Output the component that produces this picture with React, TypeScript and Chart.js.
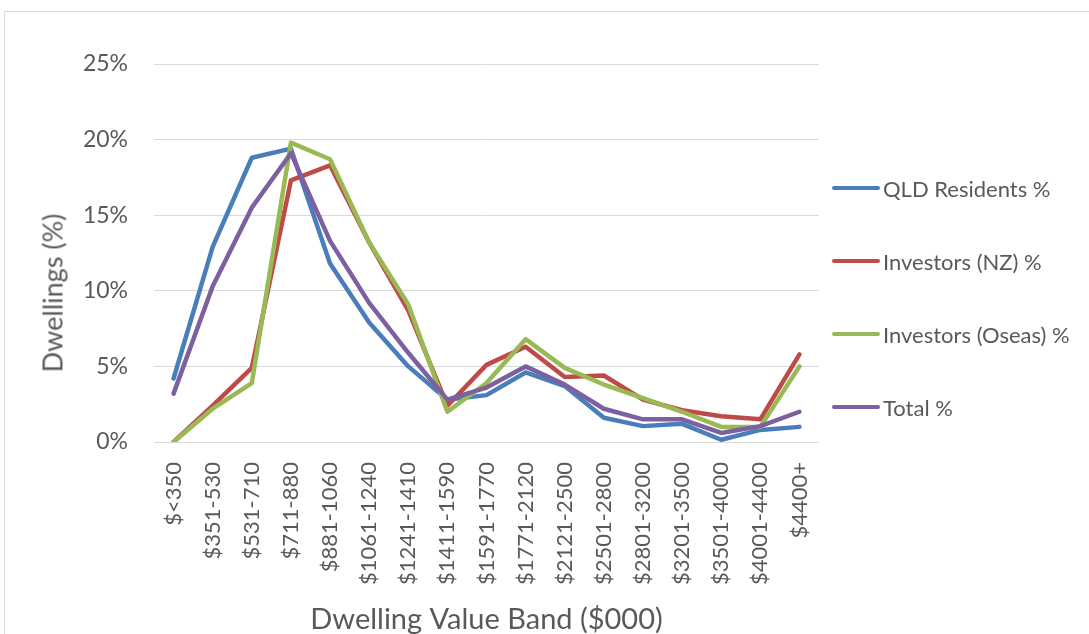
import React, { useEffect, useRef } from "react";
import { Chart, registerables } from "chart.js";

Chart.register(...registerables);

const categories = [
  "$<350",
  "$351-530",
  "$531-710",
  "$711-880",
  "$881-1060",
  "$1061-1240",
  "$1241-1410",
  "$1411-1590",
  "$1591-1770",
  "$1771-2120",
  "$2121-2500",
  "$2501-2800",
  "$2801-3200",
  "$3201-3500",
  "$3501-4000",
  "$4001-4400",
  "$4400+",
];

const qldResidents = [4.2, 12.9, 18.8, 19.4, 11.8, 7.9, 5.0, 2.8, 3.1, 4.6, 3.7, 1.6, 1.05, 1.2, 0.15, 0.8, 1.0];
const investorsNZ = [0, 2.4, 4.9, 17.3, 18.3, 13.2, 8.7, 2.4, 5.1, 6.3, 4.3, 4.4, 2.8, 2.1, 1.7, 1.5, 5.8];
const investorsOseas = [0, 2.2, 3.9, 19.8, 18.7, 13.2, 9.1, 2.0, 3.9, 6.8, 4.9, 3.8, 2.9, 2.0, 1.0, 1.0, 5.0];
const totalPct = [3.2, 10.3, 15.5, 19.1, 13.3, 9.2, 5.9, 2.8, 3.6, 5.0, 3.8, 2.2, 1.5, 1.5, 0.6, 1.05, 2.0];

const seriesNames = ["QLD Residents %", "Investors (NZ) %", "Investors (Oseas) %", "Total %"];
const seriesValues = [qldResidents, investorsNZ, investorsOseas, totalPct];
const seriesColors = ["#4A7EBB", "#BE4B48", "#98B954", "#7D60A0"];

const yMin = 0;
const yMax = 25;
const yStep = 5;

const xTitle = "Dwelling Value Band ($000)";
const yTitle = "Dwellings (%)";

const FONT = "Lato, 'Open Sans', sans-serif";
const TEXT = "#595959";

export default function App() {
  const canvasRef = useRef<HTMLCanvasElement | null>(null);

  useEffect(() => {
    const canvas = canvasRef.current;
    if (!canvas) return;
    const chart = new Chart(canvas, {
      type: "line",
      data: {
        labels: categories,
        datasets: seriesNames.map((name, i) => ({
          label: name,
          data: seriesValues[i],
          borderColor: seriesColors[i],
          backgroundColor: seriesColors[i],
          borderWidth: 4.5,
          pointRadius: 0,
          tension: 0,
          fill: false,
          order: seriesNames.length - i,
          borderJoinStyle: "round" as const,
          borderCapStyle: "round" as const,
        })),
      },
      options: {
        animation: false,
        responsive: false,
        maintainAspectRatio: false,
        layout: { padding: { left: 0, right: 270, top: 64, bottom: 0 } },
        plugins: {
          legend: { display: false },
          tooltip: { enabled: false },
        },
        scales: {
          x: {
            type: "category",
            offset: true,
            grid: { display: false, drawTicks: false },
            border: { display: false },
            ticks: {
              autoSkip: false,
              minRotation: 90,
              maxRotation: 90,
              padding: 20,
              color: TEXT,
              font: { family: FONT, size: 22 },
            },
            title: {
              display: true,
              text: xTitle,
              color: TEXT,
              font: { family: FONT, size: 29, lineHeight: 1 },
              padding: { top: 0, bottom: 0 },
            },
            afterFit: (scale: any) => {
              scale.height = 192;
            },
          },
          y: {
            min: yMin,
            max: yMax,
            grid: { color: "#d9d9d9", lineWidth: 1, drawTicks: false },
            border: { display: false },
            ticks: {
              stepSize: yStep,
              padding: 26,
              color: TEXT,
              font: { family: FONT, size: 23 },
              callback: (v: any) => `${v}%`,
            },
            afterFit: (scale: any) => {
              scale.width = 154;
            },
          },
        },
      },
    });
    return () => chart.destroy();
  }, []);

  return (
    <div
      style={{
        position: "fixed",
        left: 0,
        top: 0,
        width: 1089,
        height: 634,
        overflow: "hidden",
        background: "#ffffff",
      }}
    >
      <div
        style={{
          position: "absolute",
          left: 4,
          top: 11,
          width: 1200,
          height: 800,
          border: "1px solid #d9d9d9",
          boxSizing: "border-box",
        }}
      />
      <canvas
        ref={canvasRef}
        width={1089}
        height={634}
        style={{ position: "absolute", left: 0, top: 0, width: 1089, height: 634 }}
      />
      <div
        style={{
          position: "absolute",
          left: 52,
          top: 293,
          transform: "translate(-50%, -50%) rotate(-90deg)",
          whiteSpace: "nowrap",
          fontFamily: FONT,
          fontSize: 27,
          color: TEXT,
          lineHeight: 1,
        }}
      >
        {yTitle}
      </div>
      {seriesNames.map((name, i) => (
        <div
          key={name}
          style={{
            position: "absolute",
            left: 832,
            top: 188 + i * 73 - 15,
            height: 30,
            display: "flex",
            alignItems: "center",
            whiteSpace: "nowrap",
            fontFamily: FONT,
            fontSize: 22,
            color: TEXT,
          }}
        >
          <span
            style={{
              display: "inline-block",
              width: 48,
              height: 4,
              borderRadius: 2,
              background: seriesColors[i],
              marginRight: 3,
            }}
          />
          <span>{name}</span>
        </div>
      ))}
    </div>
  );
}
